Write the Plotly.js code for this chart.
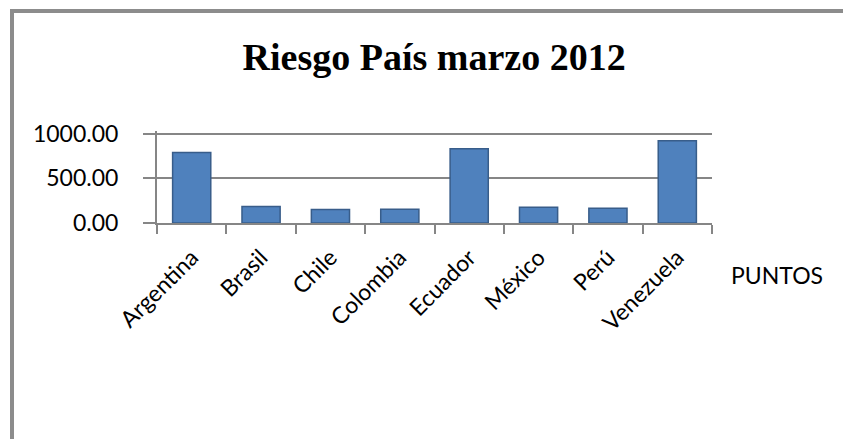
<!DOCTYPE html>
<html>
<head>
<meta charset="utf-8">
<script src="https://cdn.plot.ly/plotly-3.0.1.min.js"></script>
<style>
  html, body { margin: 0; padding: 0; background: #ffffff; overflow: hidden; }
  #frame { position: absolute; left: 10px; top: 9px; width: 900px; height: 500px;
           border-left: 4px solid #8c8c8c; border-top: 4px solid #8c8c8c; box-sizing: border-box; }
  #chart { position: absolute; left: 0; top: 0; width: 843px; height: 439px; }
</style>
</head>
<body>
<div id="frame"></div>
<div id="chart"></div>
<script>
// Data
const countries = ["Argentina", "Brasil", "Chile", "Colombia", "Ecuador", "México", "Perú", "Venezuela"];
const puntos = [790, 185, 150, 155, 830, 175, 165, 920];
const seriesName = "PUNTOS";
const yTickVals = [0, 500, 1000];
const yTickText = ["0.00", "500.00", "1000.00"];

const grey = "#868686";
const labelFont = { family: "Lato, 'Open Sans', sans-serif", size: 23, color: "#000000" };

const trace = {
  type: "bar",
  x: countries,
  y: puntos,
  name: seriesName,
  marker: { color: "#4F81BD", line: { color: "#385D8A", width: 1.5 } },
  hoverinfo: "x+y"
};

const layout = {
  width: 843,
  height: 439,
  margin: { l: 157, r: 131, t: 131, b: 216 },
  paper_bgcolor: "rgba(0,0,0,0)",
  plot_bgcolor: "rgba(0,0,0,0)",
  showlegend: false,
  bargap: 0.45,
  title: {
    text: "<b>Riesgo País marzo 2012</b>",
    font: { family: "'Liberation Serif', 'Times New Roman', serif", size: 38, color: "#000000" },
    x: 0.515, xanchor: "center",
    y: 0.87, yanchor: "middle"
  },
  xaxis: {
    type: "category",
    tickangle: -45,
    tickfont: labelFont,
    ticklabelstandoff: 10,
    showline: true, linecolor: grey, linewidth: 2,
    ticks: "outside", tickson: "boundaries", ticklen: 9, tickcolor: grey, tickwidth: 2,
    showgrid: false,
    fixedrange: true
  },
  yaxis: {
    range: [0, 1030],
    tickvals: yTickVals,
    ticktext: yTickText,
    tickfont: labelFont,
    ticklabelstandoff: 20,
    showline: true, linecolor: grey, linewidth: 2,
    ticks: "outside", ticklen: 12, tickcolor: grey, tickwidth: 2,
    showgrid: true, gridcolor: grey, gridwidth: 2,
    zeroline: false,
    fixedrange: true
  },
  annotations: [{
    text: seriesName,
    xref: "paper", yref: "paper",
    x: 1.03, xanchor: "left",
    y: -0.565, yanchor: "middle",
    showarrow: false,
    font: { family: "Lato, 'Open Sans', sans-serif", size: 23, color: "#000000" }
  }]
};

Plotly.newPlot("chart", [trace], layout, { displayModeBar: false, staticPlot: true });
</script>
</body>
</html>
